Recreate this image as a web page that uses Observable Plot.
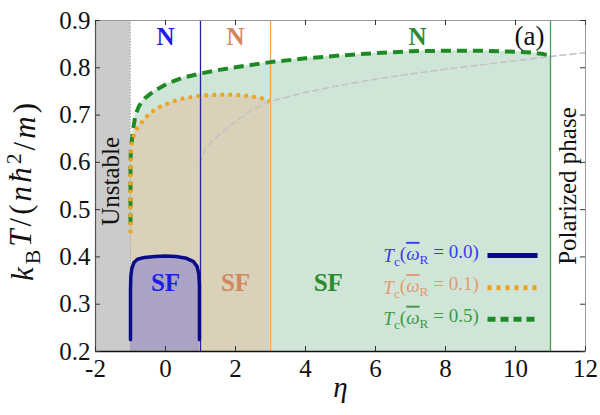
<!DOCTYPE html>
<html><head><meta charset="utf-8">
<script src="https://cdn.jsdelivr.net/npm/d3@7"></script>
<script src="https://cdn.jsdelivr.net/npm/@observablehq/plot@0.6"></script>
<style>
body{margin:0;background:#fff}
#chart svg text { font-family: 'Liberation Serif', serif !important; }
</style>
</head><body><div id="chart"></div>
<script>
// ---- data ----
const etaTicks = [-2, 0, 2, 4, 6, 8, 10, 12];
const TTicks = [0.2, 0.3, 0.4, 0.5, 0.6, 0.7, 0.8, 0.9];
const etaDomain = [-2, 12];
const TDomain = [0.2, 0.9];

// Tc for omega_R = 0.0 (solid)
const etaW00 = [-1, -1, -0.99, -0.96, -0.9, -0.8, -0.6, -0.3, 0, 0.3, 0.6, 0.8, 0.9, 0.95, 0.97, 0.97];
const TcW00  = [0.225, 0.33, 0.36, 0.376, 0.388, 0.395, 0.399, 0.401, 0.402, 0.401, 0.397, 0.39, 0.38, 0.365, 0.34, 0.225];
// Tc for omega_R = 0.1 (dotted)
const etaW01 = [-1, -1, -0.99, -0.97, -0.93, -0.87, -0.8, -0.6, -0.43, -0.2, 0.14, 0.5, 1, 1.5, 1.94, 2.3, 2.5, 2.77, 2.97];
const TcW01  = [0.45, 0.58, 0.615, 0.635, 0.652, 0.664, 0.673, 0.692, 0.705, 0.716, 0.727, 0.735, 0.741, 0.743, 0.743, 0.741, 0.739, 0.735, 0.729];
// Tc for omega_R = 0.5 (dashed)
const etaW05 = [-1, -1, -0.99, -0.96, -0.92, -0.86, -0.75, -0.57, -0.3, 0.06, 0.5, 1, 1.5, 2, 3, 4, 5, 6, 7, 8, 9, 10, 10.5, 10.8, 11];
const TcW05  = [0.47, 0.59, 0.625, 0.648, 0.672, 0.7, 0.72, 0.737, 0.752, 0.767, 0.779, 0.788, 0.795, 0.801, 0.812, 0.82, 0.826, 0.831, 0.835, 0.836, 0.836, 0.834, 0.832, 0.829, 0.825];
// grey dashed reference curve
const etaGrey = [1, 1.05, 1.1, 1.2, 1.35, 1.5, 1.75, 2, 2.5, 3, 4, 5, 6, 7, 8, 9, 10, 11, 12];
const TGrey   = [0.598, 0.612, 0.622, 0.634, 0.646, 0.656, 0.672, 0.686, 0.712, 0.729, 0.748, 0.763, 0.776, 0.787, 0.797, 0.806, 0.815, 0.824, 0.832];

const unstableEdge = -1;
const phaseEdges = [1, 3, 11];        // vertical boundaries for omega_R = 0.0, 0.1, 0.5
const omegaLabels = ["0.0", "0.1", "0.5"];

const phaseLabelText = ["N", "N", "N", "SF", "SF", "SF"];
const phaseLabelEta  = [0, 2, 7.2, 0, 2, 4.65];
const phaseLabelT    = [0.866, 0.866, 0.866, 0.345, 0.345, 0.345];
const phaseLabelSer  = [0, 1, 2, 0, 1, 2];

const legendT = [0.403, 0.335, 0.268];
const legendEtaText = 8.95, legendEta1 = 9.2, legendEta2 = 10.63;

// ---- styles ----
const curveColor = ["#0b0b8a", "#f0a21a", "#1f8a25"];
const edgeColor  = ["#25259a", "#f7a455", "#40a050"];
const fillColor  = ["#aba4c5", "#d9d1b9", "#cfe5d8"];
const labelColor = ["#1c1cf0", "#d0885c", "#2a8a2e"];
const legendColor = ["#3a3af2", "#e39a70", "#3f9a44"];
const dashes = [null, "3.5,4.5", "10,6"];
const serif = "Liberation Serif";

const mk = (e, t) => e.map((x, i) => ({eta: x, T: t[i]}));
const curves = [mk(etaW00, TcW00), mk(etaW01, TcW01), mk(etaW05, TcW05)];
const grey = mk(etaGrey, TGrey);
const phaseLabels = phaseLabelText.map((t, i) => ({t, eta: phaseLabelEta[i], T: phaseLabelT[i], s: phaseLabelSer[i]}));
const legendRows = omegaLabels.map((w, i) => ({w, T: legendT[i], s: i}));

const W = 600, H = 415, mL = 95, mR = 15, mT = 20, mB = 64;
const pw = W - mL - mR, ph = H - mT - mB;

const marks = [];
for (const s of [2, 1, 0]) {
  marks.push(Plot.areaY(curves[s], {x: "eta", y1: TDomain[0], y2: "T", fill: fillColor[s]}));
}
marks.push(Plot.rect([{a: etaDomain[0], b: unstableEdge}], {x1: "a", x2: "b", y1: TDomain[0], y2: TDomain[1], fill: "#cbcbcb"}));
marks.push(Plot.ruleX([unstableEdge], {stroke: "#a8a8a8", strokeDasharray: "1.5,1.5", strokeWidth: 1}));
marks.push(Plot.line(grey, {x: "eta", y: "T", stroke: "#c4c4c4", strokeWidth: 1.6, strokeDasharray: "6,4"}));
phaseEdges.forEach((e, s) => marks.push(Plot.ruleX([e], {stroke: edgeColor[s], strokeWidth: 1.3})));
for (const s of [2, 1, 0]) {
  marks.push(Plot.line(curves[s], {x: "eta", y: "T", stroke: curveColor[s], strokeWidth: s === 0 ? 3.5 : 4,
    strokeDasharray: dashes[s], strokeLinecap: s === 0 ? "round" : "butt", strokeLinejoin: "round"}));
}
marks.push(Plot.text(phaseLabels, {x: "eta", y: "T", text: "t", fill: d => labelColor[d.s], fontSize: 25, fontWeight: "bold", fontFamily: serif}));
marks.push(Plot.text(["(a)"], {x: 10.4, y: 0.866, text: d => d, fill: "#111", fontSize: 27, fontFamily: serif}));
marks.push(Plot.text(["Unstable"], {x: -1.57, y: 0.56, text: d => d, rotate: -90, fill: "#111", fontSize: 25, fontFamily: serif}));
marks.push(Plot.text(["Polarized phase"], {x: 11.5, y: 0.55, text: d => d, rotate: -90, fill: "#111", fontSize: 25, fontFamily: serif}));
marks.push(Plot.text(legendRows, {x: legendEtaText, y: "T", text: d => "LEG" + d.w, textAnchor: "end", fill: d => legendColor[d.s], fontSize: 19, fontFamily: serif}));
legendRows.forEach(d => marks.push(Plot.link([d], {x1: legendEta1, x2: legendEta2, y1: "T", y2: "T",
  stroke: curveColor[d.s], strokeWidth: 5, strokeDasharray: d.s === 1 ? "4,5" : d.s === 2 ? "8,5" : null})));
marks.push(Plot.frame({stroke: "#999", strokeWidth: 1}));
marks.push(Plot.ruleY([TDomain[0]], {stroke: "#111", strokeWidth: 1.6}));
marks.push(Plot.ruleX([etaDomain[0]], {stroke: "#555", strokeWidth: 1.2}));
marks.push(Plot.tickX(etaTicks, {x: d => d, stroke: "#333", insetTop: ph - 5}));
marks.push(Plot.tickX(etaTicks, {x: d => d, stroke: "#333", insetBottom: ph - 5}));
marks.push(Plot.tickY(TTicks, {y: d => d, stroke: "#333", insetRight: pw - 5}));
marks.push(Plot.tickY(TTicks, {y: d => d, stroke: "#333", insetLeft: pw - 5}));
marks.push(Plot.axisX(etaTicks, {tickSize: 0, tickPadding: 8, tickFormat: d => String(d), fontSize: 25, fontFamily: serif, fill: "#111", label: null}));
marks.push(Plot.axisY(TTicks, {tickSize: 0, tickPadding: 5, tickFormat: d => d.toFixed(1), fontSize: 25, fontFamily: serif, fill: "#111", label: null}));
marks.push(Plot.text(["XLABEL"], {frameAnchor: "bottom", lineAnchor: "middle", dy: 36, text: d => d, fontSize: 29, fontFamily: serif, fill: "#111"}));
marks.push(Plot.text(["YLABEL"], {frameAnchor: "left", textAnchor: "middle", lineAnchor: "middle", dx: -72, dy: 6, rotate: -90, text: d => d, fontSize: 31, fontFamily: serif, fill: "#111"}));

const plot = Plot.plot({
  width: W, height: H, marginLeft: mL, marginRight: mR, marginTop: mT, marginBottom: mB,
  x: {domain: etaDomain}, y: {domain: TDomain},
  style: {background: "#fff", overflow: "visible"},
  marks
});
document.getElementById("chart").appendChild(plot);

const svgns = "http://www.w3.org/2000/svg";
function rich(el, parts) {
  while (el.firstChild) el.removeChild(el.firstChild);
  let shift = 0;
  for (const p of parts) {
    const ts = document.createElementNS(svgns, "tspan");
    ts.textContent = p.t;
    if (p.i) ts.setAttribute("font-style", "italic");
    if (p.fs) ts.setAttribute("font-size", p.fs);
    if (p.o) ts.setAttribute("text-decoration", "overline");
    const target = p.sub ? 0.3 : p.sup ? -0.45 : 0;
    if (target !== shift) { ts.setAttribute("dy", (target - shift) + "em"); shift = target; }
    el.appendChild(ts);
  }
}
d3.select(plot).selectAll("text").each(function () {
  const t = this.textContent;
  if (t.startsWith("LEG")) {
    const w = t.slice(3);
    rich(this, [{t: "T", i: 1}, {t: "c", sub: 1, fs: "70%"}, {t: "("}, {t: "\u03C9", i: 1, o: 1}, {t: "R", sub: 1, fs: "70%"}, {t: " = " + w + ")"}]);
  } else if (t === "XLABEL") {
    rich(this, [{t: "\u03B7", i: 1}]);
  } else if (t === "YLABEL") {
    rich(this, [{t: "k", i: 1}, {t: "B", sub: 1, fs: "70%"}, {t: "T", i: 1}, {t: "/("}, {t: "n\u0127", i: 1}, {t: "2", sup: 1, fs: "70%"}, {t: "/"}, {t: "m", i: 1}, {t: ")"}]);
    this.setAttribute("textLength", "178");
    this.setAttribute("lengthAdjust", "spacing");
  }
});
</script>
</body></html>
